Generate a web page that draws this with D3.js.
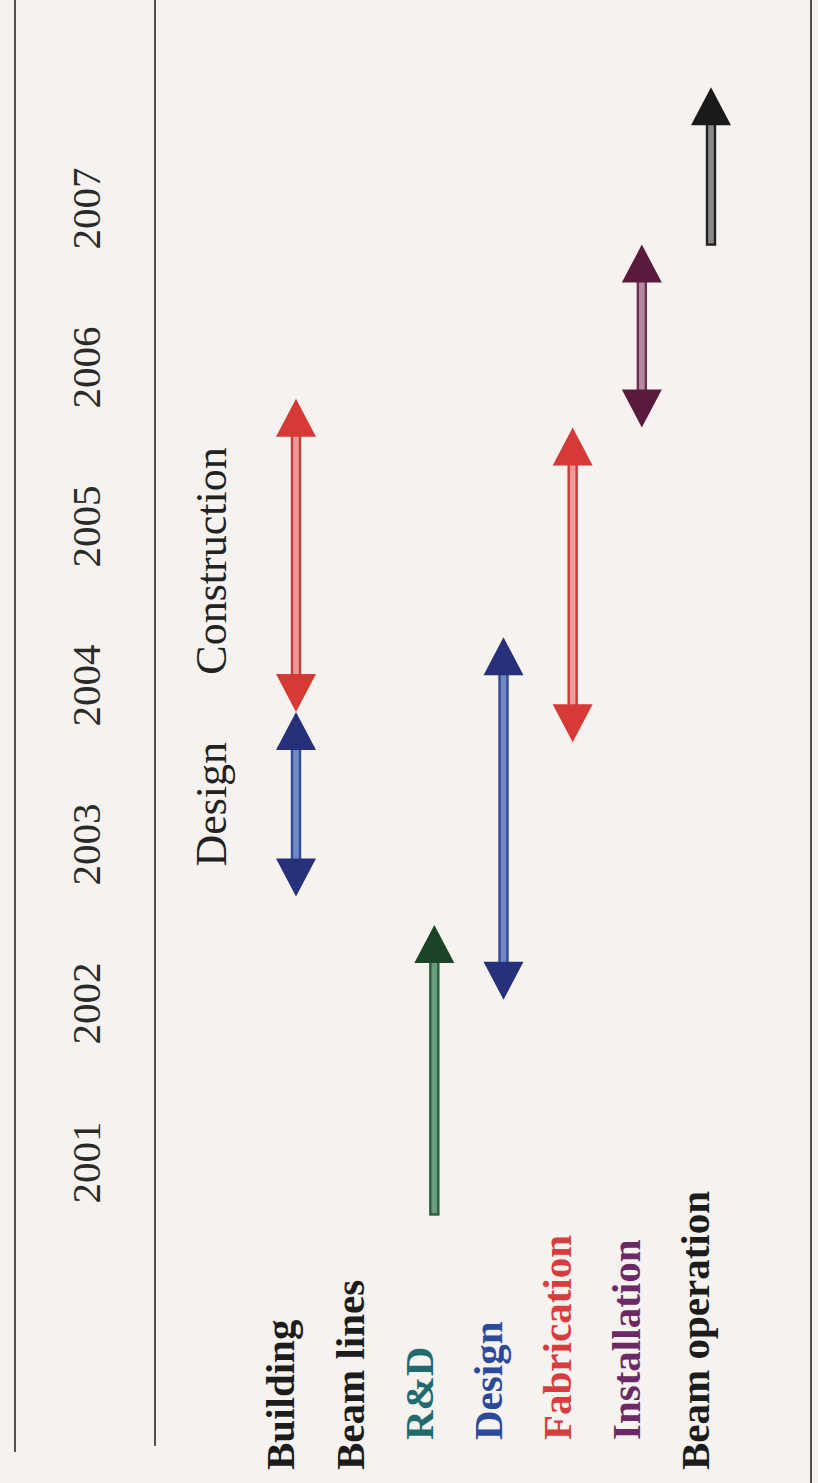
<!DOCTYPE html>
<html><head><meta charset="utf-8">
<script src="https://cdn.jsdelivr.net/npm/d3@7"></script>
<style>html,body{margin:0;padding:0;background:#f5f2ef;}svg{display:block;}</style>
</head><body>
<script>
// ---- data ----
const years = [2001, 2002, 2003, 2004, 2005, 2006, 2007];
const rows = ["Building", "Beam lines", "R&D", "Design", "Fabrication", "Installation", "Beam operation"];
const taskRow   = ["Building", "Building", "R&D", "Design", "Fabrication", "Installation", "Beam operation"];
const taskStart = [2002.67, 2003.83, 2000.67, 2002.02, 2003.64, 2005.62, 2006.77];
const taskEnd   = [2003.83, 2005.80, 2002.49, 2004.30, 2005.62, 2006.77, 2007.76];
const taskHeads = ["both", "both", "end", "both", "both", "both", "end"];
const noteText  = ["Design", "Construction"];
const noteValue = [2003.25, 2004.78];

// ---- styles ----
const W = 818, H = 1483;
const labelColor = {"Building":"#1c1c1c","Beam lines":"#1c1c1c","R&D":"#1f6b6e","Design":"#2b4a9c",
  "Fabrication":"#d83c3c","Installation":"#6b2a66","Beam operation":"#1c1c1c"};
const labelIndent = {"Building":0,"Beam lines":0,"R&D":1,"Design":1,"Fabrication":1,"Installation":1,"Beam operation":0};
const taskStyle = [
  {head:"#27307a", stroke:"#34489a", fill:"#7088c8"},
  {head:"#d63a36", stroke:"#c83c3c", fill:"#ec9a96"},
  {head:"#1b4327", stroke:"#2a5e40", fill:"#6a9c80"},
  {head:"#27307a", stroke:"#34489a", fill:"#7088c8"},
  {head:"#d63a36", stroke:"#c83c3c", fill:"#ec9a96"},
  {head:"#5a1a3c", stroke:"#6e3052", fill:"#b48aa2"},
  {head:"#1a1a1a", stroke:"#222222", fill:"#8a8a8a"}
];

const svg = d3.select("body").append("svg").attr("width", W).attr("height", H);
svg.append("rect").attr("width", W).attr("height", H).attr("fill", "#f5f2ef");

// time runs upward (chart is rotated)
const y = d3.scaleLinear().domain([2001, 2007]).range([1162, 208]);
const x = d3.scalePoint().domain(rows).range([280, 695]);
const arrowOffset = 16;

// frame lines
svg.append("line").attr("x1", 15).attr("x2", 15).attr("y1", 0).attr("y2", 1452).attr("stroke", "#2a2a2a").attr("stroke-width", 1.6);
svg.append("line").attr("x1", 155).attr("x2", 155).attr("y1", 0).attr("y2", 1446).attr("stroke", "#2a2a2a").attr("stroke-width", 1.6);
svg.append("line").attr("x1", 811).attr("x2", 811).attr("y1", 0).attr("y2", H).attr("stroke", "#2a2a2a").attr("stroke-width", 1.6);

// year labels (axis)
const axis = d3.axisLeft(y).tickValues(years).tickFormat(d3.format("d")).tickSize(0);
const ag = svg.append("g").attr("transform", "translate(86,0)").call(axis);
ag.select(".domain").remove();
ag.selectAll(".tick text")
  .attr("x", 0).attr("dy", null)
  .attr("transform", "rotate(-90)")
  .attr("text-anchor", "middle")
  .attr("dominant-baseline", "central")
  .attr("font-family", "'Liberation Serif', 'Times New Roman', serif")
  .attr("font-size", 41)
  .attr("fill", "#2a2a2a");

// row labels
svg.selectAll("text.row").data(rows).join("text")
  .attr("class", "row")
  .attr("transform", d => `translate(${x(d)},${labelIndent[d] ? 1440 : 1470}) rotate(-90)`)
  .attr("dy", "0.35em")
  .attr("text-anchor", "start")
  .attr("font-family", "'Liberation Serif', 'Times New Roman', serif")
  .attr("font-weight", "bold")
  .attr("font-size", 41)
  .attr("fill", d => labelColor[d])
  .text(d => d);

// notes
svg.selectAll("text.note").data(noteText).join("text")
  .attr("class", "note")
  .attr("transform", (d, i) => `translate(211,${y(noteValue[i])}) rotate(-90)`)
  .attr("dy", "0.35em")
  .attr("text-anchor", "middle")
  .attr("font-family", "'Liberation Serif', 'Times New Roman', serif")
  .attr("font-size", 44)
  .attr("fill", "#222")
  .text(d => d);

// arrows
const headLen = 38, headW = 40, shaftW = 8;
const tasks = taskRow.map((r, i) => ({row: r, s: taskStart[i], e: taskEnd[i], heads: taskHeads[i], st: taskStyle[i]}));
const g = svg.append("g");
tasks.forEach(t => {
  const cx = x(t.row) + arrowOffset;
  const yTop = y(t.e), yBot = y(t.s);
  const shaftTop = yTop + headLen - 2;
  const shaftBot = t.heads === "both" ? yBot - headLen + 2 : yBot;
  g.append("rect")
    .attr("x", cx - shaftW / 2).attr("y", shaftTop)
    .attr("width", shaftW).attr("height", shaftBot - shaftTop)
    .attr("fill", t.st.fill).attr("stroke", t.st.stroke).attr("stroke-width", 2.4);
  g.append("path")
    .attr("d", `M${cx},${yTop} L${cx - headW / 2},${yTop + headLen} L${cx + headW / 2},${yTop + headLen} Z`)
    .attr("fill", t.st.head);
  if (t.heads === "both") {
    g.append("path")
      .attr("d", `M${cx},${yBot} L${cx - headW / 2},${yBot - headLen} L${cx + headW / 2},${yBot - headLen} Z`)
      .attr("fill", t.st.head);
  }
});
</script>
</body></html>
